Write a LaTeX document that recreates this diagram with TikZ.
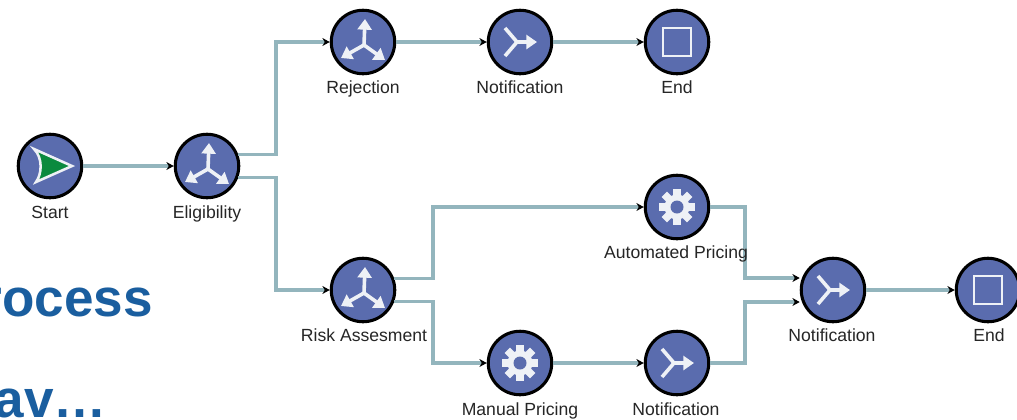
\documentclass[tikz,border=0pt]{standalone}
\usepackage{fontspec}
\setmainfont{Liberation Sans}
\usetikzlibrary{arrows.meta}
\definecolor{disc}{HTML}{5A6CAE}
\definecolor{wire}{HTML}{93B5BD}
\definecolor{headblue}{HTML}{1A5E9F}
\definecolor{startgreen}{HTML}{0B8A3E}
\definecolor{glyph}{HTML}{EEF1F6}
\tikzset{
  disk/.style={circle,draw=black,fill=disc,line width=2.3pt,minimum size=63.5*0.75pt,inner sep=0pt},
  lab/.style={font=\fontsize{13.2}{16}\selectfont,text=black!85,inner sep=0pt,anchor=base},
  wirepath/.style={draw=wire,line width=2.35pt,-{Stealth[color=black,length=5.5pt,width=6pt]}},
  head/.style={font=\fontsize{39.8}{46}\selectfont\bfseries,text=headblue,inner sep=0pt,anchor=base east},
  glyphline/.style={draw=glyph,line width=2.7pt},
  glypharrow/.style={draw=glyph,line width=2.7pt,-{Triangle[length=8pt,width=10.5pt,color=glyph]}},
  splitic/.pic={
    \draw[glypharrow] (1,3) -- (2,-23);
    \draw[glypharrow] (1,3) -- (-22,16);
    \draw[glypharrow] (1,3) -- (22,18);
  },
  mergeic/.pic={
    \draw[glyphline] (-15,-14) -- (-3,0) -- (-15,14);
    \draw[glypharrow] (-3,0) -- (17,0);
  },
  stopic/.pic={
    \draw[draw=glyph,line width=1.7pt] (-14,-14) rectangle (14,14);
  },
  gearic/.pic={
    \foreach \a in {0,45,...,315}{
      \fill[glyph,rotate=\a] (-3.8,-10) rectangle (3.8,-18);
    }
    \fill[glyph] (0,0) circle[radius=12.5*0.75pt];
    \fill[disc] (0,0) circle[radius=6.5*0.75pt];
  },
  startic/.pic={
    \draw[draw=glyph,line width=1.9pt,fill=startgreen,line join=miter] (-16,-17) -- (22,0) -- (-14,16) .. controls (-8,8) and (-7,-8) .. cycle;
  },
}
\begin{document}
\begin{tikzpicture}[x=0.75pt,y=-0.75pt]
\useasboundingbox (0,0) rectangle (1017,419);
\clip (0,0) rectangle (1017,419);
\fill[white] (0,0) rectangle (1017,419);
% background heading fragments
\node[head] (headA) at (153,316) {rocess};
\node[head] (headB) at (107,417) {av…};
% named routing coordinates
\coordinate (busA) at (276,0);
\coordinate (busB) at (433,0);
\coordinate (busC) at (745,0);
\coordinate (inU) at (0,278);
\coordinate (inL) at (0,302);
% process steps
\node[disk] (start) at (50,166) {};
\node[disk] (elig) at (207,166) {};
\node[disk] (rej) at (363,42) {};
\node[disk] (notA) at (520,42) {};
\node[disk] (endA) at (677,42) {};
\node[disk] (risk) at (363,290) {};
\node[disk] (auto) at (677,207) {};
\node[disk] (man) at (520,363) {};
\node[disk] (notB) at (677,363) {};
\node[disk] (notC) at (833,290) {};
\node[disk] (endB) at (988,290) {};
% icons
\pic at (start) {startic};
\pic at (elig) {splitic};
\pic at (rej) {splitic};
\pic at (risk) {splitic};
\pic at (notA) {mergeic};
\pic at (notB) {mergeic};
\pic at (notC) {mergeic};
\pic at (endA) {stopic};
\pic at (endB) {stopic};
\pic at (auto) {gearic};
\pic at (man) {gearic};
% connectors
\draw[wirepath] (start) -- (elig);
\draw[wirepath] (elig.21) -- (elig.21 -| busA) -- (busA |- rej.west) -- (rej.west);
\draw[wirepath] (elig.-20) -- (elig.-20 -| busA) -- (busA |- risk.west) -- (risk.west);
\draw[wirepath] (rej) -- (notA);
\draw[wirepath] (notA) -- (endA);
\draw[wirepath] (risk.21) -- (risk.21 -| busB) -- (busB |- auto.west) -- (auto.west);
\draw[wirepath] (risk.-20) -- (risk.-20 -| busB) -- (busB |- man.west) -- (man.west);
\draw[wirepath] (man) -- (notB);
\draw[wirepath] (auto.east) -- (auto.east -| busC) -- (busC |- inU) -- (inU -| notC.west);
\draw[wirepath] (notB.east) -- (notB.east -| busC) -- (busC |- inL) -- (inL -| notC.west);
\draw[wirepath] (notC) -- (endB);
% labels
\node[lab] (lstart) at (50,218) {Start};
\node[lab] (lelig) at (207,218) {Eligibility};
\node[lab] (lrej) at (363,93.5) {Rejection};
\node[lab] (lnotA) at (520,93.5) {Notification};
\node[lab] (lendA) at (677,93.5) {End};
\node[lab] (lauto) at (676,258) {Automated Pricing};
\node[lab] (lrisk) at (364,341.5) {Risk Assesment};
\node[lab] (lman) at (520,415) {Manual Pricing};
\node[lab] (lnotB) at (676,415) {Notification};
\node[lab] (lnotC) at (832,341.5) {Notification};
\node[lab] (lendB) at (989,341.5) {End};
\end{tikzpicture}
\end{document}
